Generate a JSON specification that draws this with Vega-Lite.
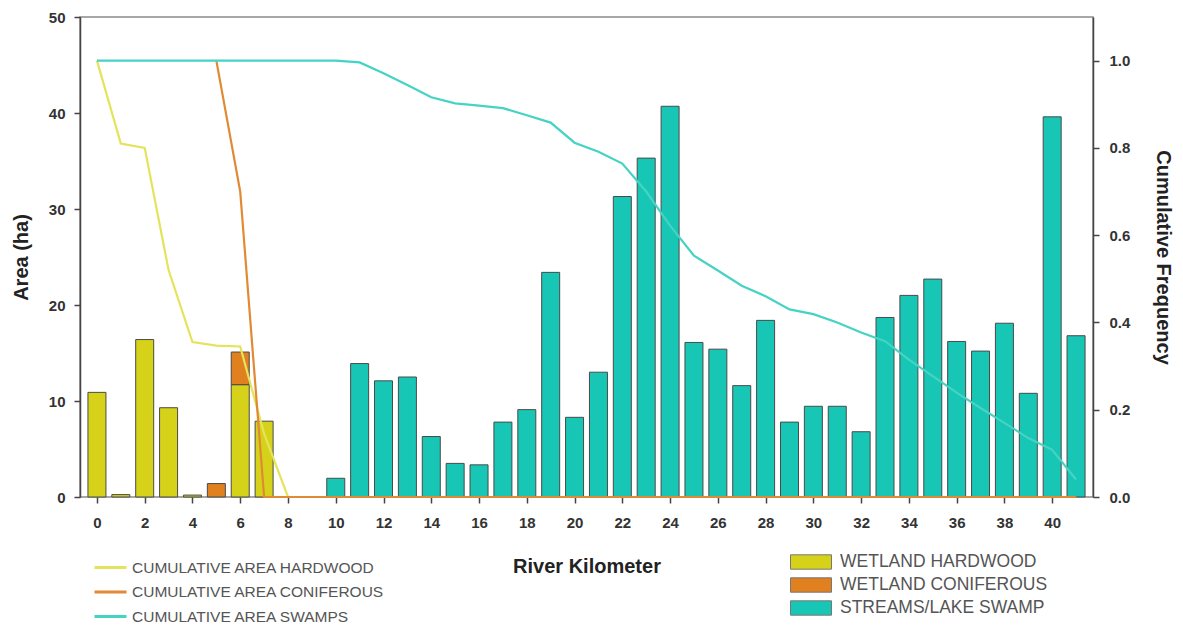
{
  "$schema": "https://vega.github.io/schema/vega-lite/v6.json",
  "autosize": "none",
  "padding": {"left": 80, "top": 17, "right": 90, "bottom": 130},
  "width": 1013,
  "height": 480,
  "background": "white",
  "config": {
    "font": "Liberation Sans",
    "view": {"stroke": "#8a8a8a", "strokeWidth": 1.5},
    "axis": {"labelFont": "Liberation Sans", "labelFontWeight": "bold", "labelFontSize": 15, "labelColor": "#333333", "titleFont": "Liberation Sans", "titleFontWeight": "bold", "titleFontSize": 20, "titleColor": "#222222", "grid": false, "domainColor": "#444444", "domainWidth": 1.5, "tickColor": "#444444"},
    "legend": {"labelFont": "Liberation Sans", "labelColor": "#555555", "padding": 0, "title": null, "labelLimit": 500}
  },
  "datasets": {
    "bars": [
      {"km": 0, "type": "WETLAND HARDWOOD", "area": 10.9},
      {"km": 1, "type": "WETLAND HARDWOOD", "area": 0.25},
      {"km": 2, "type": "WETLAND HARDWOOD", "area": 16.4},
      {"km": 3, "type": "WETLAND HARDWOOD", "area": 9.3},
      {"km": 4, "type": "WETLAND HARDWOOD", "area": 0.2},
      {"km": 5, "type": "WETLAND CONIFEROUS", "area": 1.4},
      {"km": 6, "type": "WETLAND HARDWOOD", "area": 11.7},
      {"km": 6, "type": "WETLAND CONIFEROUS", "area": 3.4},
      {"km": 7, "type": "WETLAND HARDWOOD", "area": 7.9},
      {"km": 10, "type": "STREAMS/LAKE SWAMP", "area": 1.95},
      {"km": 11, "type": "STREAMS/LAKE SWAMP", "area": 13.9},
      {"km": 12, "type": "STREAMS/LAKE SWAMP", "area": 12.1},
      {"km": 13, "type": "STREAMS/LAKE SWAMP", "area": 12.5},
      {"km": 14, "type": "STREAMS/LAKE SWAMP", "area": 6.3},
      {"km": 15, "type": "STREAMS/LAKE SWAMP", "area": 3.5},
      {"km": 16, "type": "STREAMS/LAKE SWAMP", "area": 3.35},
      {"km": 17, "type": "STREAMS/LAKE SWAMP", "area": 7.8},
      {"km": 18, "type": "STREAMS/LAKE SWAMP", "area": 9.1},
      {"km": 19, "type": "STREAMS/LAKE SWAMP", "area": 23.4},
      {"km": 20, "type": "STREAMS/LAKE SWAMP", "area": 8.3},
      {"km": 21, "type": "STREAMS/LAKE SWAMP", "area": 13.0},
      {"km": 22, "type": "STREAMS/LAKE SWAMP", "area": 31.3},
      {"km": 23, "type": "STREAMS/LAKE SWAMP", "area": 35.3},
      {"km": 24, "type": "STREAMS/LAKE SWAMP", "area": 40.7},
      {"km": 25, "type": "STREAMS/LAKE SWAMP", "area": 16.1},
      {"km": 26, "type": "STREAMS/LAKE SWAMP", "area": 15.4},
      {"km": 27, "type": "STREAMS/LAKE SWAMP", "area": 11.6},
      {"km": 28, "type": "STREAMS/LAKE SWAMP", "area": 18.4},
      {"km": 29, "type": "STREAMS/LAKE SWAMP", "area": 7.8},
      {"km": 30, "type": "STREAMS/LAKE SWAMP", "area": 9.45},
      {"km": 31, "type": "STREAMS/LAKE SWAMP", "area": 9.45},
      {"km": 32, "type": "STREAMS/LAKE SWAMP", "area": 6.8},
      {"km": 33, "type": "STREAMS/LAKE SWAMP", "area": 18.7},
      {"km": 34, "type": "STREAMS/LAKE SWAMP", "area": 21.0},
      {"km": 35, "type": "STREAMS/LAKE SWAMP", "area": 22.7},
      {"km": 36, "type": "STREAMS/LAKE SWAMP", "area": 16.2},
      {"km": 37, "type": "STREAMS/LAKE SWAMP", "area": 15.2},
      {"km": 38, "type": "STREAMS/LAKE SWAMP", "area": 18.1},
      {"km": 39, "type": "STREAMS/LAKE SWAMP", "area": 10.8},
      {"km": 40, "type": "STREAMS/LAKE SWAMP", "area": 39.6},
      {"km": 41, "type": "STREAMS/LAKE SWAMP", "area": 16.8}
    ],
    "lines": [
      {"km": 0, "series": "CUMULATIVE AREA HARDWOOD", "freq": 1.0},
      {"km": 1, "series": "CUMULATIVE AREA HARDWOOD", "freq": 0.81},
      {"km": 2, "series": "CUMULATIVE AREA HARDWOOD", "freq": 0.80},
      {"km": 3, "series": "CUMULATIVE AREA HARDWOOD", "freq": 0.52},
      {"km": 4, "series": "CUMULATIVE AREA HARDWOOD", "freq": 0.355},
      {"km": 5, "series": "CUMULATIVE AREA HARDWOOD", "freq": 0.347},
      {"km": 6, "series": "CUMULATIVE AREA HARDWOOD", "freq": 0.345},
      {"km": 7, "series": "CUMULATIVE AREA HARDWOOD", "freq": 0.145},
      {"km": 8, "series": "CUMULATIVE AREA HARDWOOD", "freq": 0},
      {"km": 41, "series": "CUMULATIVE AREA HARDWOOD", "freq": 0},
      {"km": 5, "series": "CUMULATIVE AREA CONIFEROUS", "freq": 1.0},
      {"km": 6, "series": "CUMULATIVE AREA CONIFEROUS", "freq": 0.7},
      {"km": 7, "series": "CUMULATIVE AREA CONIFEROUS", "freq": 0},
      {"km": 41, "series": "CUMULATIVE AREA CONIFEROUS", "freq": 0},
      {"km": 0, "series": "CUMULATIVE AREA SWAMPS", "freq": 1.0},
      {"km": 10, "series": "CUMULATIVE AREA SWAMPS", "freq": 1.0},
      {"km": 11, "series": "CUMULATIVE AREA SWAMPS", "freq": 0.996},
      {"km": 12, "series": "CUMULATIVE AREA SWAMPS", "freq": 0.971},
      {"km": 13, "series": "CUMULATIVE AREA SWAMPS", "freq": 0.944},
      {"km": 14, "series": "CUMULATIVE AREA SWAMPS", "freq": 0.916},
      {"km": 15, "series": "CUMULATIVE AREA SWAMPS", "freq": 0.902},
      {"km": 16, "series": "CUMULATIVE AREA SWAMPS", "freq": 0.897},
      {"km": 17, "series": "CUMULATIVE AREA SWAMPS", "freq": 0.891},
      {"km": 18, "series": "CUMULATIVE AREA SWAMPS", "freq": 0.875},
      {"km": 19, "series": "CUMULATIVE AREA SWAMPS", "freq": 0.858},
      {"km": 20, "series": "CUMULATIVE AREA SWAMPS", "freq": 0.812},
      {"km": 21, "series": "CUMULATIVE AREA SWAMPS", "freq": 0.791},
      {"km": 22, "series": "CUMULATIVE AREA SWAMPS", "freq": 0.764},
      {"km": 23, "series": "CUMULATIVE AREA SWAMPS", "freq": 0.70},
      {"km": 24, "series": "CUMULATIVE AREA SWAMPS", "freq": 0.622},
      {"km": 25, "series": "CUMULATIVE AREA SWAMPS", "freq": 0.553},
      {"km": 26, "series": "CUMULATIVE AREA SWAMPS", "freq": 0.519},
      {"km": 27, "series": "CUMULATIVE AREA SWAMPS", "freq": 0.484},
      {"km": 28, "series": "CUMULATIVE AREA SWAMPS", "freq": 0.46},
      {"km": 29, "series": "CUMULATIVE AREA SWAMPS", "freq": 0.43},
      {"km": 30, "series": "CUMULATIVE AREA SWAMPS", "freq": 0.419},
      {"km": 31, "series": "CUMULATIVE AREA SWAMPS", "freq": 0.40},
      {"km": 32, "series": "CUMULATIVE AREA SWAMPS", "freq": 0.377},
      {"km": 33, "series": "CUMULATIVE AREA SWAMPS", "freq": 0.357},
      {"km": 34, "series": "CUMULATIVE AREA SWAMPS", "freq": 0.315},
      {"km": 35, "series": "CUMULATIVE AREA SWAMPS", "freq": 0.277},
      {"km": 36, "series": "CUMULATIVE AREA SWAMPS", "freq": 0.239},
      {"km": 37, "series": "CUMULATIVE AREA SWAMPS", "freq": 0.204},
      {"km": 38, "series": "CUMULATIVE AREA SWAMPS", "freq": 0.17},
      {"km": 39, "series": "CUMULATIVE AREA SWAMPS", "freq": 0.135},
      {"km": 40, "series": "CUMULATIVE AREA SWAMPS", "freq": 0.108},
      {"km": 41, "series": "CUMULATIVE AREA SWAMPS", "freq": 0.04}
    ]
  },
  "layer": [
    {
      "data": {"name": "bars"},
      "mark": {"type": "bar", "size": 18, "stroke": "#4a4a4a", "strokeWidth": 1},
      "encoding": {
        "x": {
          "field": "km", "type": "quantitative",
          "scale": {"domain": [-0.5, 41.5], "nice": false, "zero": false},
          "axis": {
            "title": "River Kilometer",
            "values": [0,1,2,3,4,5,6,7,8,9,10,11,12,13,14,15,16,17,18,19,20,21,22,23,24,25,26,27,28,29,30,31,32,33,34,35,36,37,38,39,40,41],
            "labelExpr": "datum.value % 2 == 0 ? datum.label : ''",
            "tickSize": {"condition": {"test": "datum.value % 2 == 0", "value": 6}, "value": 3},
            "tickColor": {"condition": {"test": "datum.value % 2 == 0", "value": "#444444"}, "value": "#bbbbbb"},
            "tickWidth": 1.5,
            "labelPadding": 12,
            "titlePadding": 26,
            "domain": false,
            "labelFlush": false
          }
        },
        "y": {
          "field": "area", "type": "quantitative", "stack": "zero",
          "scale": {"domain": [0, 50], "nice": false},
          "axis": {"title": "Area (ha)", "values": [0,10,20,30,40,50], "tickSize": 6, "tickWidth": 1.5, "labelPadding": 9, "titlePadding": 17}
        },
        "fill": {
          "field": "type", "type": "nominal",
          "sort": ["WETLAND HARDWOOD", "WETLAND CONIFEROUS", "STREAMS/LAKE SWAMP"],
          "scale": {"domain": ["WETLAND HARDWOOD", "WETLAND CONIFEROUS", "STREAMS/LAKE SWAMP"], "range": ["#d6d21a", "#e0801e", "#18c6b5"]},
          "legend": {
            "orient": "none", "legendX": 720, "legendY": 534,
            "symbolType": "M-2,-0.7H2V0.7H-2Z", "symbolSize": 420,
            "symbolStrokeColor": "#777777", "symbolStrokeWidth": 1, "symbolOpacity": 1,
            "labelFontSize": 17.5, "labelOffset": 18, "rowPadding": 2
          }
        }
      }
    },
    {
      "data": {"name": "lines"},
      "mark": {"type": "line", "strokeWidth": 2.2},
      "encoding": {
        "x": {"field": "km", "type": "quantitative"},
        "y": {
          "field": "freq", "type": "quantitative",
          "scale": {"domain": [0, 1.1], "nice": false},
          "axis": {"orient": "right", "title": "Cumulative Frequency", "values": [0,0.2,0.4,0.6,0.8,1.0], "format": ".1f", "tickSize": 6, "tickWidth": 1.5, "labelPadding": 10, "titlePadding": 23}
        },
        "stroke": {
          "field": "series", "type": "nominal",
          "sort": ["CUMULATIVE AREA HARDWOOD", "CUMULATIVE AREA CONIFEROUS", "CUMULATIVE AREA SWAMPS"],
          "scale": {"domain": ["CUMULATIVE AREA HARDWOOD", "CUMULATIVE AREA CONIFEROUS", "CUMULATIVE AREA SWAMPS"], "range": ["#e4e35c", "#e08a34", "#45d3c4"]},
          "legend": {
            "orient": "none", "legendX": 21, "legendY": 541,
            "symbolType": "M-2,0H2", "symbolSize": 256, "symbolStrokeWidth": 3,
            "labelFontSize": 15.5, "labelOffset": 12, "rowPadding": 6.5
          }
        }
      }
    }
  ],
  "resolve": {"scale": {"y": "independent"}, "axis": {"y": "independent"}}
}
